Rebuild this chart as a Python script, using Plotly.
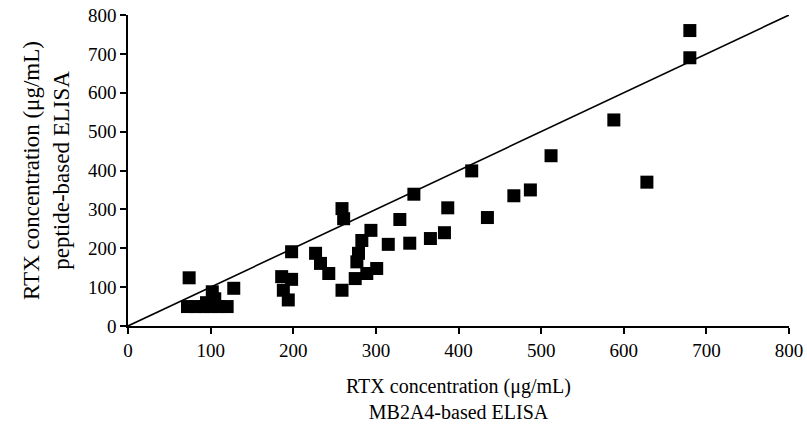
import plotly.graph_objects as go

mb2a4 = [680, 680, 588, 628, 512, 487, 467, 435, 416, 387, 383, 366, 341, 346, 329,
         315, 294, 283, 279, 277, 301, 289, 275, 259, 261, 259, 227, 233, 243, 198,
         186, 198, 188, 194, 128, 74, 72, 82, 92, 102, 105, 110, 120, 100, 95]
peptide = [760, 690, 530, 370, 438, 350, 335, 279, 399, 304, 240, 225, 213, 339, 274,
           210, 246, 220, 187, 165, 148, 135, 122, 302, 276, 92, 187, 161, 135, 191,
           127, 120, 92, 67, 97, 124, 50, 50, 50, 88, 70, 50, 50, 50, 60]
identity = [0, 800]
ticks = [0, 100, 200, 300, 400, 500, 600, 700, 800]

fig = go.Figure()
fig.add_trace(go.Scatter(x=identity, y=identity, mode="lines",
                         line=dict(color="black", width=1.6), showlegend=False))
fig.add_trace(go.Scatter(x=mb2a4, y=peptide, mode="markers",
                         marker=dict(symbol="square", size=13, color="black"),
                         cliponaxis=False, showlegend=False))

font = dict(family="Liberation Serif, Times New Roman, serif", color="black")
axis_common = dict(range=[0, 800], tickvals=ticks, showgrid=False, zeroline=False,
                   showline=True, linecolor="black", linewidth=1.5, automargin=False,
                   ticks="outside", ticklen=6, tickwidth=1.5, tickcolor="black",
                   tickfont=dict(size=19, **font))
fig.update_xaxes(**axis_common,
                 title=dict(text="RTX concentration (μg/mL)<br>MB2A4-based ELISA",
                            font=dict(size=20, **font), standoff=19))
fig.update_yaxes(**axis_common,
                 title=dict(text="RTX concentration (μg/mL)<br>peptide-based ELISA",
                            font=dict(size=23, **font), standoff=12))
fig.update_layout(width=807, height=428, margin=dict(l=128, r=18, t=15, b=102),
                  plot_bgcolor="white", paper_bgcolor="white", font=font)
fig.write_html("out.html")
